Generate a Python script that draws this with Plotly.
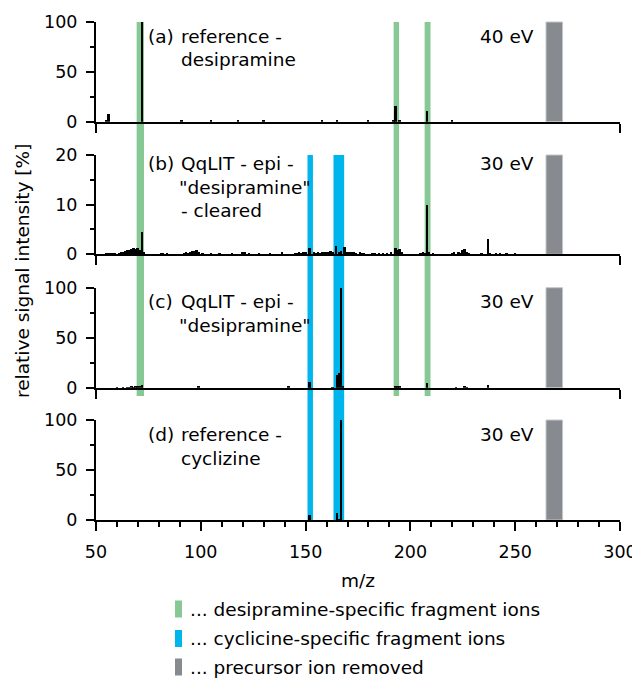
import plotly.graph_objects as go

# ---------------- data ----------------
mz_a = [55, 56, 72, 91, 105, 118, 130, 158, 165, 180, 192, 193, 195, 208, 220]
int_a = [1, 8, 100, 1.5, 1, 1, 1, 1, 1.5, 1.5, 1, 15.5, 1.5, 11, 1.5]

mz_b = [55, 56, 57, 58, 59, 61, 62, 63, 64, 65, 66, 67, 68, 69, 70, 71, 72, 73,
        81, 82, 84, 92, 93, 94, 95, 96, 97, 98, 99, 101, 105, 109, 115, 120, 121,
        123, 128, 133, 139, 145, 146, 147, 148, 149, 150, 152, 154, 155, 156, 157,
        158, 159, 160, 161, 162, 163, 164.6, 166, 167, 168.6, 169, 170, 171, 172,
        173, 174, 176, 177, 178, 182, 183, 185, 187, 189, 191, 193, 194, 195, 196,
        205, 206, 207, 208, 209, 211, 220, 221, 223, 224, 225, 226, 227, 228, 234,
        237, 238, 241, 243, 246, 250]
int_b = [0.25, 0.2, 0.3, 0.2, 0.25, 0.3, 0.4, 0.5, 0.6, 0.8, 0.9, 1.1, 1.2, 1.0, 1.2, 0.8, 4.5, 0.5,
         0.3, 0.3, 0.2, 0.3, 0.4, 0.3, 0.5, 0.6, 0.7, 0.9, 0.4, 0.3, 0.3, 0.3, 0.3, 0.4, 0.5,
         0.3, 0.2, 0.2, 0.4, 0.3, 0.3, 0.4, 0.3, 0.4, 0.5, 1.3, 0.4, 0.3, 0.4, 0.3,
         0.5, 0.4, 0.5, 0.5, 0.6, 0.5, 1.7, 0.5, 0.6, 1.4, 0.6, 0.5, 0.4, 0.5,
         0.4, 0.3, 0.4, 0.3, 0.3, 0.3, 0.2, 0.3, 0.3, 0.3, 0.4, 1.2, 0.9, 1.1, 0.5,
         0.3, 0.4, 0.3, 10, 0.5, 0.3, 0.3, 0.4, 0.5, 0.3, 0.8, 1.0, 0.4, 0.3, 0.3,
         3, 0.3, 0.2, 0.2, 0.2, 0.2]

mz_c = [60, 63, 65, 66, 67, 68, 69, 70, 71, 72, 99, 142, 152, 163, 165, 166, 167,
        168, 193, 194, 195, 208, 222, 226, 227, 237]
int_c = [0.5, 0.8, 1, 1, 1.2, 1, 1.2, 1.5, 1.2, 3, 2.5, 1.5, 6, 1, 13, 15, 100,
         1.5, 1.2, 1.5, 1.2, 5, 1, 2, 1, 2.8]

mz_d = [152, 165, 166, 167]
int_d = [5, 7, 1, 100]

panel_labels = ["(a)", "(b)", "(c)", "(d)"]
panel_texts = [["reference -", "desipramine"],
               ["QqLIT - epi -", "\"desipramine\"", "- cleared"],
               ["QqLIT - epi -", "\"desipramine\""],
               ["reference -", "cyclizine"]]
energies = ["40 eV", "30 eV", "30 eV", "30 eV"]
y_max = [100, 20, 100, 100]
y_dtick = [50, 10, 50, 50]

desipramine_bands = [(69.4, 72.9), (192.0, 194.6), (206.8, 209.6)]
cyclizine_bands = [(150.9, 153.5), (163.3, 168.4)]
precursor_band = (264.7, 272.6)

legend_texts = ["... desipramine-specific fragment ions",
                "... cyclicine-specific fragment ions",
                "... precursor ion removed"]

x_ticks = [50, 100, 150, 200, 250, 300]

# ---------------- styling / layout ----------------
# the page body has an 8px margin, so the figure starts at (8, 8) in the window
OFF = 8
W, H = 640 - OFF, 680 - OFF
PX0, PX1 = 96, 620     # plot area in window pixels (x)
PY0, PY1 = 22, 520     # plot area in window pixels (y)
ML, MR = PX0 - OFF, W - (PX1 - OFF)
MT, MB = PY0 - OFF, H - (PY1 - OFF)
PW, PH = PX1 - PX0, PY1 - PY0
GREEN = "#86c995"
BLUE = "#00b5ec"
GREY = "#878b90"
FONT = "DejaVu Sans"


def fx(px):
    return (px - PX0) / PW


def fy(py):
    return (PY1 - py) / PH


panel_px = [(22, 121.7), (155, 254.3), (287.7, 387.7), (420, 520)]
first_line_y = [36, 163.4, 301.8, 434.4]
line_gap = 23.8

fig = go.Figure()
series = [(mz_a, int_a), (mz_b, int_b), (mz_c, int_c), (mz_d, int_d)]

for i, (mz, inten) in enumerate(series):
    n = "" if i == 0 else str(i + 1)
    fig.add_trace(go.Bar(x=mz, y=inten, width=0.9, marker=dict(color="black", line=dict(width=0)),
                         xaxis="x" + n, yaxis="y" + n, showlegend=False))

axes = {}
for i in range(4):
    n = "" if i == 0 else str(i + 1)
    top, bot = panel_px[i]
    last = i == 3
    xa = dict(domain=[0, 1], range=[50, 300], anchor="y" + n, showline=True, linecolor="black",
              linewidth=2, ticks="outside", tickcolor="black", tickwidth=2, ticklen=9,
              showgrid=False, zeroline=False,
              tickfont=dict(family=FONT, size=17.5, color="black"))
    if last:
        xa.update(tickvals=x_ticks, ticklabelstandoff=6,
                  minor=dict(ticks="outside", dtick=10, ticklen=5, tickwidth=2, tickcolor="black"))
    else:
        xa.update(tickvals=[50, 300], showticklabels=False, matches="x4")
    ya = dict(domain=[fy(bot), fy(top)], range=[0, y_max[i]], anchor="x" + n, showline=True,
              linecolor="black", linewidth=2, ticks="outside", tickcolor="black", tickwidth=2,
              ticklen=8, dtick=y_dtick[i], showgrid=False, zeroline=False, ticklabelstandoff=5,
              tickfont=dict(family=FONT, size=17.5, color="black"),
              minor=dict(ticks="outside", dtick=y_dtick[i] / 2, ticklen=4, tickwidth=2,
                         tickcolor="black"))
    axes["xaxis" + n] = xa
    axes["yaxis" + n] = ya

shapes = []
for x0, x1 in desipramine_bands:
    shapes.append(dict(type="rect", xref="x4", yref="paper", x0=x0, x1=x1,
                       y0=fy(396), y1=fy(22), fillcolor=GREEN, line=dict(width=0), layer="below"))
for x0, x1 in cyclizine_bands:
    shapes.append(dict(type="rect", xref="x4", yref="paper", x0=x0, x1=x1,
                       y0=fy(520), y1=fy(155), fillcolor=BLUE, line=dict(width=0), layer="below"))
for i in range(4):
    n = "" if i == 0 else str(i + 1)
    shapes.append(dict(type="rect", xref="x" + n, yref="y" + n + " domain",
                       x0=precursor_band[0], x1=precursor_band[1], y0=0, y1=1,
                       fillcolor=GREY, line=dict(width=1, color="#c3c6c9"), layer="below"))

annotations = []
for i in range(4):
    y0 = first_line_y[i]
    annotations.append(dict(xref="paper", yref="paper", x=fx(146), y=fy(y0), text=panel_labels[i],
                            showarrow=False, xanchor="left", yanchor="middle",
                            font=dict(family=FONT, size=18.5, color="black")))
    for j, t in enumerate(panel_texts[i]):
        xoff = 177 if t.startswith('"') else 178.5
        annotations.append(dict(xref="paper", yref="paper", x=fx(xoff), y=fy(y0 + j * line_gap),
                                text=t, showarrow=False, xanchor="left", yanchor="middle",
                                font=dict(family=FONT, size=18.5, color="black")))
    annotations.append(dict(xref="paper", yref="paper", x=fx(536), y=fy(y0), text=energies[i],
                            showarrow=False, xanchor="right", yanchor="middle",
                            font=dict(family=FONT, size=18.5, color="black")))

annotations.append(dict(xref="paper", yref="paper", x=fx(358), y=fy(580), text="m/z",
                        showarrow=False, xanchor="center", yanchor="middle",
                        font=dict(family=FONT, size=18.5, color="black")))
annotations.append(dict(xref="paper", yref="paper", x=fx(22), y=fy(271),
                        text="relative signal intensity [%]", textangle=-90,
                        showarrow=False, xanchor="center", yanchor="middle",
                        font=dict(family=FONT, size=18.5, color="black")))

legend_y = [609, 638.5, 667]
legend_colors = [GREEN, BLUE, GREY]
for t, yc, c in zip(legend_texts, legend_y, legend_colors):
    shapes.append(dict(type="rect", xref="paper", yref="paper", x0=fx(175), x1=fx(182),
                       y0=fy(yc + 8.5), y1=fy(yc - 8.5), fillcolor=c, line=dict(width=0)))
    annotations.append(dict(xref="paper", yref="paper", x=fx(188), y=fy(yc), text=t,
                            showarrow=False, xanchor="left", yanchor="middle",
                            font=dict(family=FONT, size=18.5, color="black")))

fig.update_layout(width=W, height=H, margin=dict(l=ML, r=MR, t=MT, b=MB, autoexpand=False),
                  paper_bgcolor="white", plot_bgcolor="rgba(0,0,0,0)", bargap=0,
                  shapes=shapes, annotations=annotations, showlegend=False, **axes)

fig.write_html("out.html")
